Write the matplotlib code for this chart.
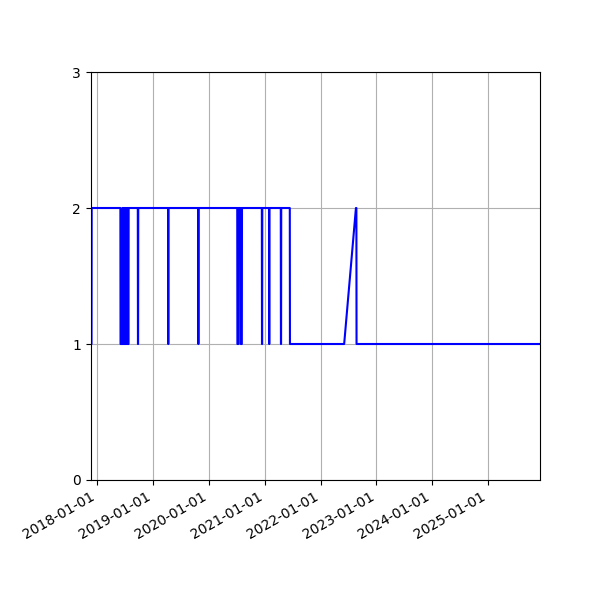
import numpy as np
import matplotlib
matplotlib.use('Agg')
import matplotlib.pyplot as plt
import matplotlib.dates as mdates

dates = [
    '2017-11-17', '2017-11-23', '2017-11-24',
    '2018-05-31', '2018-06-01', '2018-06-12', '2018-06-13',
    '2018-06-16', '2018-06-17', '2018-06-20', '2018-06-21',
    '2018-06-24', '2018-06-25', '2018-06-28', '2018-06-29',
    '2018-07-02', '2018-07-03', '2018-07-06', '2018-07-07',
    '2018-07-10', '2018-07-11', '2018-07-15', '2018-07-16',
    '2018-07-19', '2018-07-20', '2018-07-23', '2018-07-24',
    '2018-09-22', '2018-09-23', '2018-09-24', '2018-09-25',
    '2019-04-08', '2019-04-09', '2019-04-10', '2019-04-11',
    '2019-10-22', '2019-10-23', '2019-10-24', '2019-10-25',
    '2020-07-04', '2020-07-05', '2020-07-12', '2020-07-13',
    '2020-07-26', '2020-07-27', '2020-08-03', '2020-08-04',
    '2020-12-12', '2020-12-13', '2020-12-14', '2020-12-15',
    '2021-01-28', '2021-01-29', '2021-01-30', '2021-01-31',
    '2021-04-15', '2021-04-16', '2021-04-17', '2021-04-18',
    '2021-06-13', '2021-06-14',
    '2022-06-04', '2022-08-20', '2022-08-23', '2022-08-24',
    '2025-12-07',
]
values = [
    1, 1, 2,
    2, 1, 1, 2,
    2, 1, 1, 2,
    2, 1, 1, 2,
    2, 1, 1, 2,
    2, 1, 1, 2,
    2, 1, 1, 2,
    2, 1, 1, 2,
    2, 1, 1, 2,
    2, 1, 1, 2,
    2, 1, 1, 2,
    2, 1, 1, 2,
    2, 1, 1, 2,
    2, 1, 1, 2,
    2, 1, 1, 2,
    2, 1,
    1, 2, 2, 1,
    1,
]

x = np.array(dates, dtype='datetime64[D]')

fig, ax = plt.subplots(figsize=(6, 6), dpi=100)
ax.plot(x, values, color='blue', linewidth=1.5)
ax.set_xlim(x[0], x[-1])
ax.set_ylim(0, 3)
ax.set_yticks([0, 1, 2, 3])
ax.xaxis.set_major_locator(mdates.YearLocator())
ax.xaxis.set_major_formatter(mdates.DateFormatter('%Y-%m-%d'))
ax.grid(True)
fig.autofmt_xdate()
fig.subplots_adjust(left=0.151, right=0.9, top=0.88, bottom=0.2)
fig.savefig('out.png')
